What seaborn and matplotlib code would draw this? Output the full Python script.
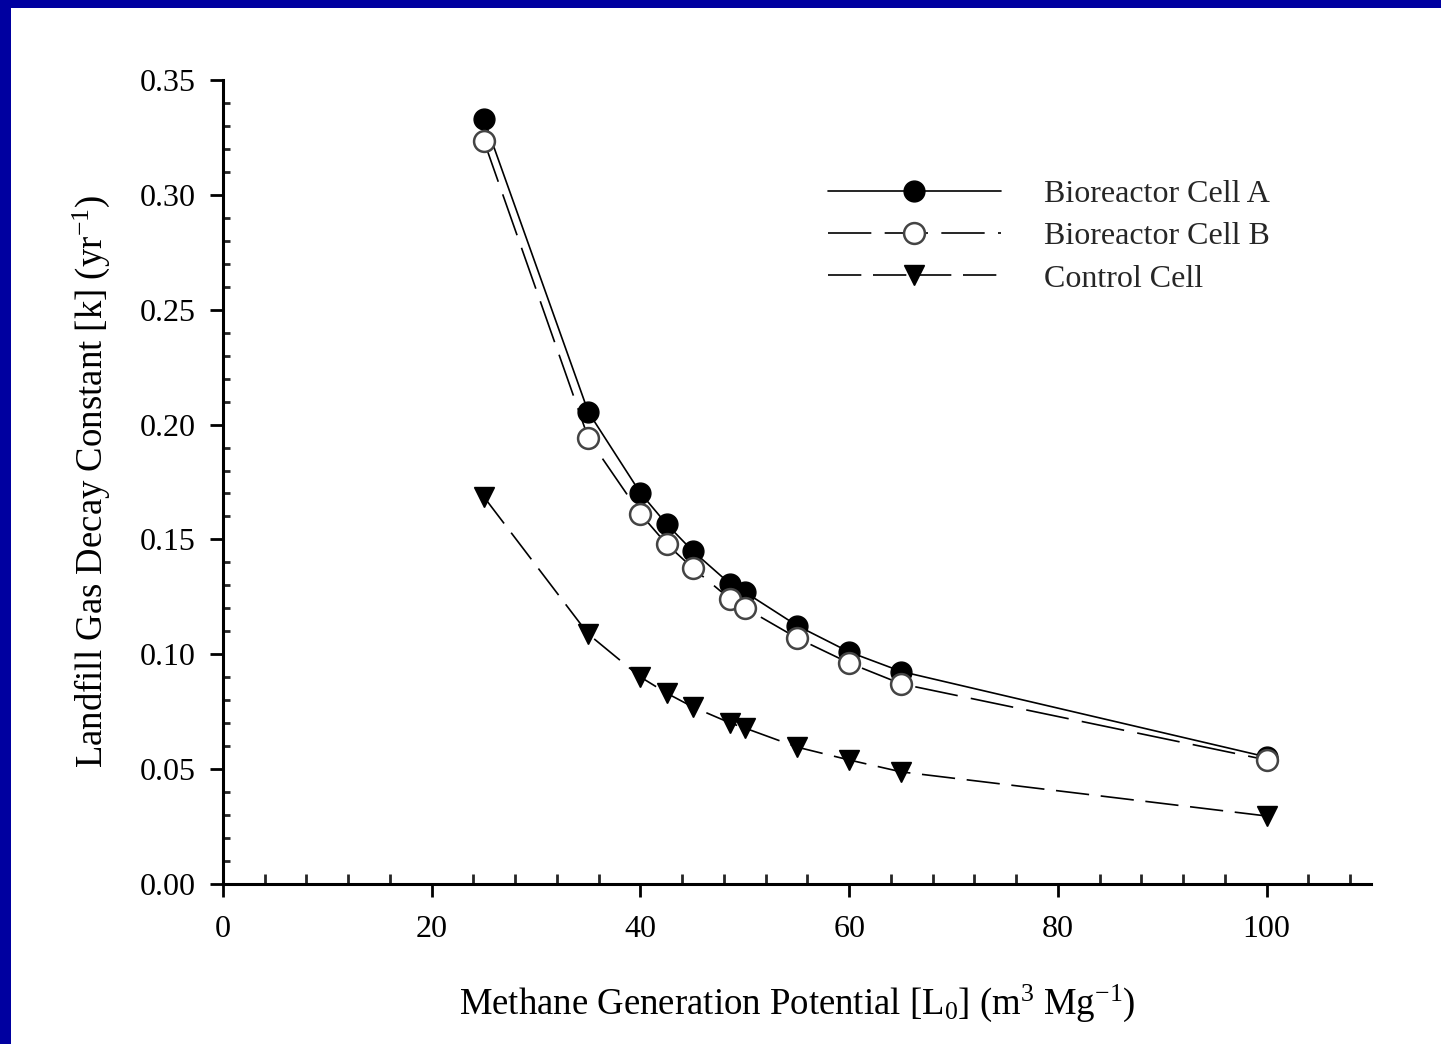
import matplotlib
matplotlib.use("Agg")
import matplotlib.pyplot as plt
from matplotlib.patches import Rectangle
from matplotlib.ticker import MultipleLocator, FormatStrFormatter
import seaborn as sns
import pandas as pd

# Methane generation potential L0 (m3/Mg)
lo_values = [25, 35, 40, 42.5, 45, 48.6, 50, 55, 60, 65, 100]

# Fitted first-order decay constants k (1/yr)
k_cell_a = [0.333, 0.2055, 0.1702, 0.1567, 0.145, 0.1306, 0.1271, 0.1125, 0.101, 0.0925, 0.0553]
k_cell_b = [0.3235, 0.1942, 0.1611, 0.148, 0.1376, 0.124, 0.1202, 0.1071, 0.0962, 0.0871, 0.054]
k_control = [0.1685, 0.1088, 0.0901, 0.0831, 0.0771, 0.0701, 0.0679, 0.0596, 0.054, 0.0488, 0.0296]

series_names = ["Bioreactor Cell A", "Bioreactor Cell B", "Control Cell"]

sns.set_theme(style="ticks")
plt.rcParams["font.family"] = ["Liberation Serif", "DejaVu Serif"]
plt.rcParams["mathtext.fontset"] = "custom"
plt.rcParams["mathtext.rm"] = "Liberation Serif"
plt.rcParams["mathtext.it"] = "Liberation Serif:italic"
plt.rcParams["mathtext.bf"] = "Liberation Serif:bold"

fig = plt.figure(figsize=(14.41, 10.44), dpi=100)
fig.patch.set_facecolor("#0000A0")
# white page inside the blue frame
fig.patches.append(Rectangle((11 / 1441, 0), 1 - 11 / 1441, 1 - 8 / 1044,
                             transform=fig.transFigure, facecolor="white",
                             edgecolor="none", zorder=-10))

ax = fig.add_axes([223 / 1441, 1 - 884 / 1044, (1371 - 223) / 1441, (884 - 80) / 1044])
ax.set_facecolor("none")

df = pd.DataFrame({"lo": lo_values, "a": k_cell_a, "b": k_cell_b, "c": k_control})

line_kw = dict(color="black", linewidth=1.2, markersize=15, ax=ax, sort=False)

sns.lineplot(data=df, x="lo", y="a", marker="o", markerfacecolor="black",
             markeredgecolor="black", markeredgewidth=1.0, linestyle="-",
             label=series_names[0], zorder=4, **line_kw)
sns.lineplot(data=df, x="lo", y="b", marker="o", markerfacecolor="white",
             markeredgecolor="#444444", markeredgewidth=1.8,
             linestyle=(0, (26, 8)), label=series_names[1], zorder=5, **line_kw)
sns.lineplot(data=df, x="lo", y="c", marker="v", markerfacecolor="black",
             markeredgecolor="black", markeredgewidth=1.0,
             linestyle=(0, (20, 7)), label=series_names[2], zorder=4, **line_kw)

ax.set_xlim(0, 110)
ax.set_ylim(0, 0.35)
ax.xaxis.set_major_locator(MultipleLocator(20))
ax.xaxis.set_minor_locator(MultipleLocator(4))
ax.set_xticks([0, 20, 40, 60, 80, 100])
ax.yaxis.set_major_locator(MultipleLocator(0.05))
ax.yaxis.set_minor_locator(MultipleLocator(0.01))
ax.yaxis.set_major_formatter(FormatStrFormatter("%.2f"))

for side in ("top", "right"):
    ax.spines[side].set_visible(False)
for side in ("left", "bottom"):
    ax.spines[side].set_linewidth(2.2)
    ax.spines[side].set_color("black")

ax.tick_params(axis="both", which="major", direction="out", length=9.4,
               width=2.0, labelsize=23, colors="black")
ax.tick_params(axis="x", which="major", pad=13)
ax.tick_params(axis="y", which="major", pad=10)
ax.tick_params(axis="x", which="minor", direction="in", length=7, width=2.0)
ax.tick_params(axis="y", which="minor", direction="in", length=5, width=2.0)

ax.set_xlabel(r"Methane Generation Potential [L$_0$] (m$^3$ Mg$^{-1}$)",
              fontsize=26.5, labelpad=28, color="black")
ax.set_ylabel(r"Landfill Gas Decay Constant [k] (yr$^{-1}$)",
              fontsize=26.5, labelpad=20, color="black")

leg = ax.legend(loc="upper left", bbox_to_anchor=(828 / 1441, 1 - 180 / 1044),
                bbox_transform=fig.transFigure, frameon=False, fontsize=23,
                handlelength=5.4, handletextpad=1.35, labelspacing=0.4,
                borderpad=0, borderaxespad=0, numpoints=1)

fig.savefig("out.png", dpi=100, facecolor=fig.get_facecolor())
